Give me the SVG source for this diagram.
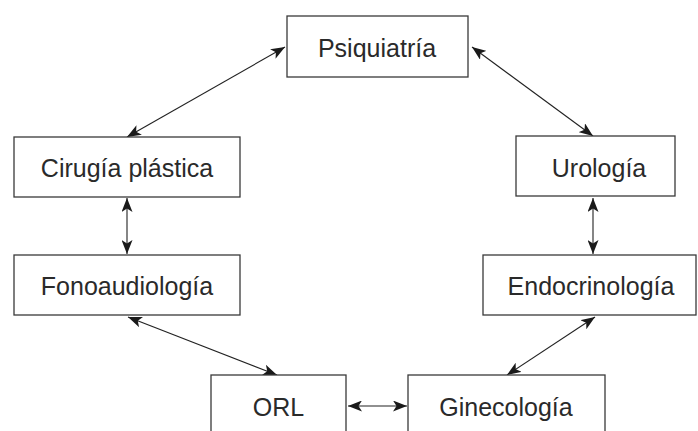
<svg xmlns="http://www.w3.org/2000/svg" width="698" height="431" viewBox="0 0 698 431">
<style>
.box{fill:#fff;stroke:#3a3a3a;stroke-width:1.3}
.lbl{font-family:"Liberation Sans",Arial,sans-serif;font-size:25px;fill:#2a2a2a;text-anchor:middle}
.edge{stroke:#222;stroke-width:1.1;fill:none;marker-start:url(#ah);marker-end:url(#ah)}
</style>
<defs>
<marker id="ah" viewBox="0 0 14 11" refX="14" refY="5.5" markerWidth="14" markerHeight="11" markerUnits="userSpaceOnUse" orient="auto-start-reverse">
<path d="M0,0 L14,5.5 L0,11 L3.5,5.5 Z" fill="#1a1a1a"/>
</marker>
</defs>
<rect width="698" height="431" fill="#fff"/>
<g id="connectors">
<line class="edge" x1="285" y1="47" x2="127" y2="137"/>
<line class="edge" x1="472" y1="47" x2="593" y2="136"/>
<line class="edge" x1="127" y1="198" x2="127" y2="254"/>
<line class="edge" x1="593" y1="198" x2="593" y2="254"/>
<line class="edge" x1="128" y1="317" x2="277" y2="375"/>
<line class="edge" x1="595" y1="317" x2="507" y2="375"/>
<line class="edge" x1="348" y1="406" x2="407" y2="406"/>
</g>
<g id="psiquiatria"><rect class="box" x="287" y="16" width="181" height="61"/><text class="lbl" x="377" y="57">Psiquiatría</text></g>
<g id="cirugia"><rect class="box" x="14" y="137" width="226" height="60"/><text class="lbl" x="127" y="177">Cirugía plástica</text></g>
<g id="urologia"><rect class="box" x="516" y="136" width="159" height="60"/><text class="lbl" x="599" y="177">Urología</text></g>
<g id="fonoaudiologia"><rect class="box" x="14" y="255" width="226" height="60"/><text class="lbl" x="127" y="295">Fonoaudiología</text></g>
<g id="endocrinologia"><rect class="box" x="483" y="255" width="213" height="60"/><text class="lbl" x="591" y="295">Endocrinología</text></g>
<g id="orl"><rect class="box" x="211" y="375" width="135" height="70"/><text class="lbl" x="278.5" y="416">ORL</text></g>
<g id="ginecologia"><rect class="box" x="408" y="375" width="197" height="70"/><text class="lbl" x="506" y="416">Ginecología</text></g>
</svg>
